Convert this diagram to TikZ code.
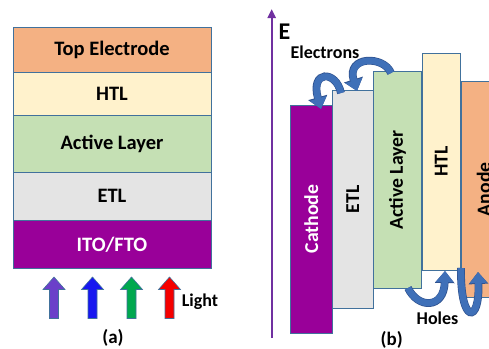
\documentclass[tikz,border=0pt]{standalone}
\usepackage{fontspec}
\setmainfont{Carlito}
\usetikzlibrary{arrows.meta}
\definecolor{bordc}{HTML}{41719C}
\definecolor{cTop}{HTML}{F4B183}
\definecolor{cHTL}{HTML}{FFF2CC}
\definecolor{cAct}{HTML}{C5E0B4}
\definecolor{cETL}{HTML}{E4E4E4}
\definecolor{cITO}{HTML}{990099}
\definecolor{lPurple}{HTML}{6B3FC9}
\definecolor{lBlue}{HTML}{1717F0}
\definecolor{lGreen}{HTML}{00A84F}
\definecolor{lRed}{HTML}{F50000}
\definecolor{axisc}{HTML}{7030A0}
\definecolor{hopc}{HTML}{3F70B8}
\definecolor{hopdark}{HTML}{2F528F}
\begin{document}
\begin{tikzpicture}[x=1pt,y=-1pt,
  layer/.style={draw=bordc, line width=0.8pt, inner sep=0pt, outer sep=0pt, font=\fontsize{20.5}{23}\selectfont\bfseries},
  vbox/.style={draw=bordc, line width=0.8pt, inner sep=0pt, outer sep=0pt},
  vlabel/.style={rotate=90, inner sep=0pt, font=\fontsize{19.7}{22}\selectfont\bfseries},
  txt/.style={inner sep=0pt, font=\fontsize{18}{21}\selectfont\bfseries},
  hop/.style={draw=hopc, line width=6.5pt,
    -{Triangle[length=11pt,width=17pt]},
    preaction={draw=hopdark, line width=7.8pt, -{Triangle[length=12pt,width=19pt]}}},
  pics/lightarrow/.style={code={
    \filldraw[draw=bordc, line width=0.6pt, fill=#1]
      (-4.5,0) -- (-4.5,-29) -- (-11,-29) -- (0,-41.5) -- (11,-29) -- (4.5,-29) -- (4.5,0) -- cycle;}}
]
\useasboundingbox (0,0) rectangle (489,348);
\clip (0,0) rectangle (489,348);

% (a) stack
\node[layer, fill=cTop, minimum width=198pt, minimum height=45.4pt] (top) at (112,50) {Top Electrode};
\node[layer, fill=cHTL, minimum width=198pt, minimum height=43pt] (htla) at (112,94.2) {HTL};
\node[layer, fill=cAct, minimum width=198pt, minimum height=56.6pt] (acta) at (112,144) {Active Layer};
\node[layer, fill=cETL, minimum width=198pt, minimum height=47.7pt] (etla) at (112,196.2) {ETL};
\node[layer, fill=cITO, text=white, minimum width=198pt, minimum height=48.7pt] (ito) at (112,244.4) {ITO/FTO};

\pic at (54,318.5) {lightarrow=lPurple};
\pic at (92.5,318.5) {lightarrow=lBlue};
\pic at (131.5,318.5) {lightarrow=lGreen};
\pic at (169.5,318.5) {lightarrow=lRed};
\node[txt] (light) at (200,302) {Light};
\node[txt, font=\fontsize{19}{22}\selectfont\bfseries] (la) at (113,338) {(a)};

% (b) energy diagram
\coordinate (eb) at (271.7,338);
\coordinate (et) at (271.7,9);
\draw[axisc, line width=2.4pt, -{Triangle[length=9pt,width=8pt]}] (eb) -- (et);
\node[txt, font=\fontsize{24}{26}\selectfont\bfseries] (E) at (284.5,32) {E};

\node[vbox, fill=cITO, minimum width=42.3pt, minimum height=228pt] (cath) at (311.2,219) {};
\node[vbox, fill=cETL, minimum width=41pt, minimum height=217.6pt] (etlb) at (352.8,199.5) {};
\node[vbox, fill=cAct, minimum width=48.4pt, minimum height=217.3pt] (actb) at (397.5,179.7) {};
\node[vbox, fill=cHTL, minimum width=37.3pt, minimum height=216.7pt] (htlb) at (441.3,161.7) {};
\node[vbox, fill=cTop, minimum width=44pt, minimum height=216.7pt] (anode) at (483.7,189.3) {};

\node[vlabel, text=white] (cathl) at (cath.center) {Cathode};
\node[vlabel] (etlbl) at (etlb.center) {ETL};
\node[vlabel] (actbl) at (actb.center) {Active Layer};
\node[vlabel] (htlbl) at (htlb.center) {HTL};
\node[vlabel] (anodel) at (anode.center) {Anode};

\node[txt] (elec) at (325,52) {Electrons};
\node[txt] (holes) at (437.5,318) {Holes};
\node[txt, font=\fontsize{19}{22}\selectfont\bfseries] (lb) at (391.7,340) {(b)};

% electron hops
\coordinate (e1s) at (341,93);
\coordinate (e1t) at (321,109);
\coordinate (e2s) at (391,73);
\coordinate (e2t) at (357,91);
\draw[hop] (e1s) .. controls (336,70) and (310,70) .. (e1t);
\draw[hop] (e2s) .. controls (384,55.5) and (346,55.5) .. (e2t);

% hole hops
\coordinate (h1s) at (408,288);
\coordinate (h1t) at (445,271);
\coordinate (h2s) at (461,268);
\coordinate (h2t) at (478,272);
\draw[hop] (h1s) .. controls (418,309) and (444,309) .. (h1t);
\draw[hop] (h2s) .. controls (460,324.5) and (480,324.5) .. (h2t);
\end{tikzpicture}
\end{document}
